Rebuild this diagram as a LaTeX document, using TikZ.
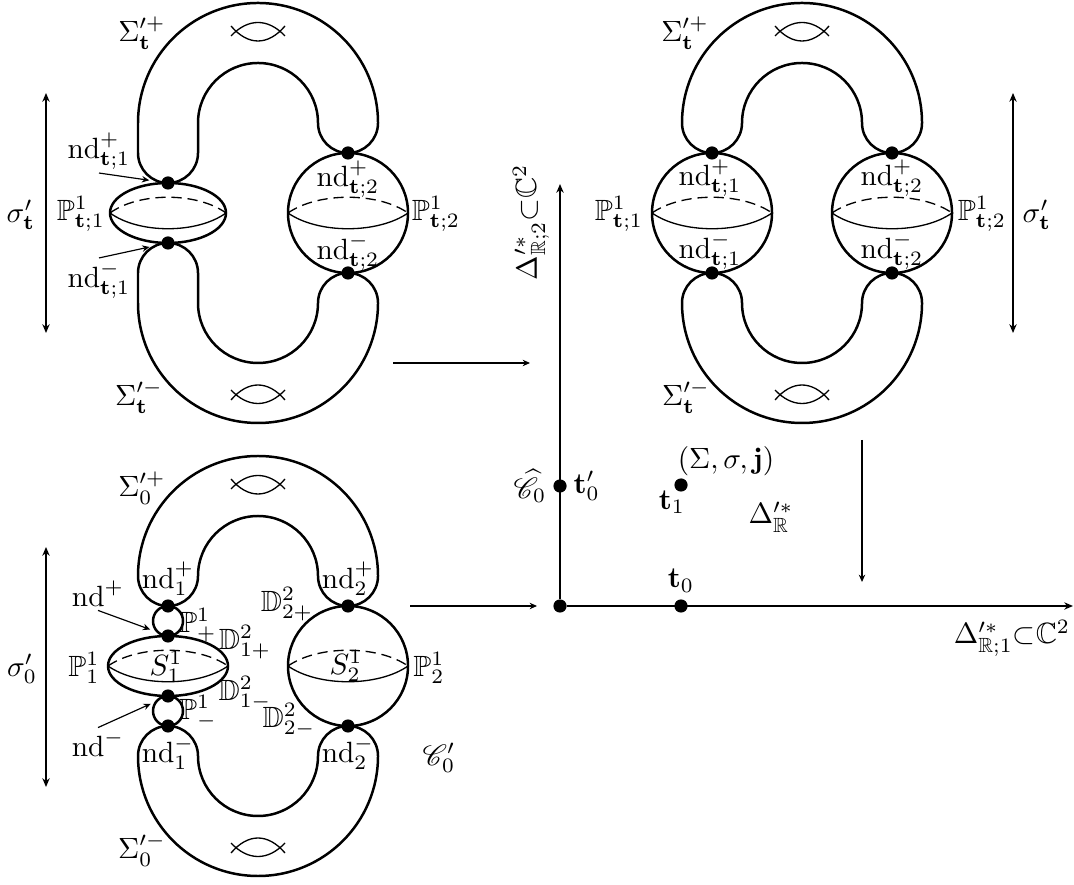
\documentclass[tikz,border=0pt]{standalone}
\usepackage{amsmath,amssymb}
\usepackage{mathrsfs}
\usetikzlibrary{arrows.meta, positioning}

\begin{document}
\begin{tikzpicture}[
    x=0.012cm,
    y=0.012cm,
    surf/.style={
        draw=black,
        line width=0.85pt
    },
    thinline/.style={
        draw=black,
        line width=0.45pt
    },
    hidden/.style={
        draw=black,
        line width=0.45pt,
        dash pattern=on 3.5pt off 2pt
    },
    dot/.style={
        circle,
        fill=black,
        inner sep=0pt,
        minimum size=4.5pt
    },
    lab/.style={
        inner sep=1pt
    },
    flip/.style={
        <->,
        >={Stealth[length=3pt,width=2.5pt]},
        line width=0.7pt
    },
    axis/.style={
        ->,
        >={Stealth[length=3pt,width=2.5pt]},
        line width=0.8pt
    },
    mapto/.style={
        ->,
        >={Stealth[length=2.5pt,width=2.2pt]},
        line width=0.4pt
    },
    pointer/.style={
        ->,
        >={Stealth[length=2.5pt,width=2.2pt]},
        line width=0.4pt,
        shorten >=4pt
    }
]

\useasboundingbox (0,0) rectangle (1074,884);

% ============================================================
% Handles of the three surfaces (upper one, then mirrored)
% ============================================================

\foreach \fx/\fy/\dl in {258/671/30, 802/671/0, 258/218/0} {
    \begin{scope}[shift={(\fx,\fy)}]
        \foreach \s in {1,-1} {
            \begin{scope}[yscale=\s]
                \draw[surf] (-90,{60-\dl}) arc[start angle=270, end angle=180, radius=30]
                    -- (-120,90) arc[start angle=180, end angle=0, radius=120]
                    arc[start angle=0, end angle=-90, radius=30]
                    arc[start angle=270, end angle=180, radius=30]
                    arc[start angle=0, end angle=180, radius=60]
                    -- (-60,{90-\dl}) arc[start angle=0, end angle=-90, radius=30];
                \draw[thinline] (-27,187) .. controls (-10,167) and (10,167) .. (27,187);
                \draw[thinline] (-27,177) .. controls (-10,195) and (10,195) .. (27,177);
            \end{scope}
        }
    \end{scope}
}

% ============================================================
% Top left: smoothing at t
% ============================================================

\begin{scope}[shift={(258,671)}]
    \draw[surf] (-90,0) ellipse[x radius=58, y radius=30];
    \draw[surf] (90,0) circle[radius=60];
    \foreach \cx/\rx in {-90/58, 90/60} {
        \draw[hidden]   ({\cx-\rx},0) .. controls ({\cx-0.5*\rx},21) and ({\cx+0.5*\rx},21) .. ({\cx+\rx},0);
        \draw[thinline] ({\cx-\rx},0) .. controls ({\cx-0.5*\rx},-21) and ({\cx+0.5*\rx},-21) .. ({\cx+\rx},0);
    }

    \node[dot] (tl1p) at (-90,30) {};
    \node[dot] (tl1m) at (-90,-30) {};
    \node[dot] (tl2p) at (90,60) {};
    \node[dot] (tl2m) at (90,-60) {};

    \node[lab] (tlSp) at (-116,180) {$\Sigma'^{+}_{\mathbf{t}}$};
    \node[lab] (tlSm) at (-119,-184) {$\Sigma'^{-}_{\mathbf{t}}$};
    \node[lab] (tlP1) at (-177,-1) {$\mathbb{P}^1_{\mathbf{t};1}$};
    \node[lab] (tlP2) at (178,-1) {$\mathbb{P}^1_{\mathbf{t};2}$};
    \node[lab] (tln1p) at (-159,62) {$\mathrm{nd}^{+}_{\mathbf{t};1}$};
    \node[lab] (tln1m) at (-159,-67) {$\mathrm{nd}^{-}_{\mathbf{t};1}$};
    \node[lab] (tln2p) at (90,34) {$\mathrm{nd}^{+}_{\mathbf{t};2}$};
    \node[lab] (tln2m) at (90,-39) {$\mathrm{nd}^{-}_{\mathbf{t};2}$};

    \draw[pointer] (tln1p.south) -- (tl1p);
    \draw[pointer] (tln1m.north) -- (tl1m);
\end{scope}

% ============================================================
% Top right: smoothing at t, two spheres
% ============================================================

\begin{scope}[shift={(802,671)}]
    \foreach \cx in {-90, 90} {
        \draw[surf] (\cx,0) circle[radius=60];
        \draw[hidden]   ({\cx-60},0) .. controls ({\cx-30},21) and ({\cx+30},21) .. ({\cx+60},0);
        \draw[thinline] ({\cx-60},0) .. controls ({\cx-30},-21) and ({\cx+30},-21) .. ({\cx+60},0);
    }

    \node[dot] (tr1p) at (-90,60) {};
    \node[dot] (tr1m) at (-90,-60) {};
    \node[dot] (tr2p) at (90,60) {};
    \node[dot] (tr2m) at (90,-60) {};

    \node[lab] (trSp) at (-117,180) {$\Sigma'^{+}_{\mathbf{t}}$};
    \node[lab] (trSm) at (-116,-184) {$\Sigma'^{-}_{\mathbf{t}}$};
    \node[lab] (trP1) at (-183,-1) {$\mathbb{P}^1_{\mathbf{t};1}$};
    \node[lab] (trP2) at (180,-1) {$\mathbb{P}^1_{\mathbf{t};2}$};
    \node[lab] (trn1p) at (-92,35) {$\mathrm{nd}^{+}_{\mathbf{t};1}$};
    \node[lab] (trn1m) at (-92,-38) {$\mathrm{nd}^{-}_{\mathbf{t};1}$};
    \node[lab] (trn2p) at (90,35) {$\mathrm{nd}^{+}_{\mathbf{t};2}$};
    \node[lab] (trn2m) at (90,-38) {$\mathrm{nd}^{-}_{\mathbf{t};2}$};
\end{scope}

% ============================================================
% Bottom left: nodal curve at 0
% ============================================================

\begin{scope}[shift={(258,218)}]
    \draw[surf] (-90,0) ellipse[x radius=60, y radius=30];
    \draw[surf] (90,0) circle[radius=60];
    \draw[surf] (-90,45) circle[radius=15];
    \draw[surf] (-90,-45) circle[radius=15];
    \foreach \cx in {-90, 90} {
        \draw[hidden]   ({\cx-60},0) .. controls ({\cx-30},21) and ({\cx+30},21) .. ({\cx+60},0);
        \draw[thinline] ({\cx-60},0) .. controls ({\cx-30},-21) and ({\cx+30},-21) .. ({\cx+60},0);
    }

    \node[dot] (bl1p) at (-90,60) {};
    \node[dot] (blp)  at (-90,30) {};
    \node[dot] (blm)  at (-90,-30) {};
    \node[dot] (bl1m) at (-90,-60) {};
    \node[dot] (bl2p) at (90,60) {};
    \node[dot] (bl2m) at (90,-60) {};

    \node[lab] (blSp) at (-116,178) {$\Sigma'^{+}_{0}$};
    \node[lab] (blSm) at (-116,-184) {$\Sigma'^{-}_{0}$};
    \node[lab] (blP1) at (-174,-2) {$\mathbb{P}^1_1$};
    \node[lab] (blP2) at (171,-2) {$\mathbb{P}^1_2$};
    \node[lab] (blPp) at (-60,41) {$\mathbb{P}^1_+$};
    \node[lab] (blPm) at (-60,-46) {$\mathbb{P}^1_-$};
    \node[lab] (blD1p) at (-13,24) {$\mathbb{D}^2_{1+}$};
    \node[lab] (blD1m) at (-13,-27) {$\mathbb{D}^2_{1-}$};
    \node[lab] (blD2p) at (29,62) {$\mathbb{D}^2_{2+}$};
    \node[lab] (blD2m) at (31,-54) {$\mathbb{D}^2_{2-}$};
    \node[lab] (blS1) at (-92,-1) {$S^1_1$};
    \node[lab] (blS2) at (88,0) {$S^1_2$};
    \node[lab] (blC) at (181,-92) {$\mathscr{C}'_0$};

    \node[lab, above=0pt of bl1p] (bln1p) {$\mathrm{nd}^{+}_{1}$};
    \node[lab, below=0pt of bl1m] (bln1m) {$\mathrm{nd}^{-}_{1}$};
    \node[lab, above=0pt of bl2p] (bln2p) {$\mathrm{nd}^{+}_{2}$};
    \node[lab, below=0pt of bl2m] (bln2m) {$\mathrm{nd}^{-}_{2}$};

    \node[lab] (blnp) at (-160,72) {$\mathrm{nd}^{+}$};
    \node[lab] (blnm) at (-160,-78) {$\mathrm{nd}^{-}$};
    \draw[pointer] (blnp.south) -- (blp);
    \draw[pointer] (blnm.north) -- (blm);
\end{scope}

% ============================================================
% Involutions
% ============================================================

\coordinate (s1t) at (46,791);
\coordinate (s1b) at (46,551);
\coordinate (s2t) at (46,337);
\coordinate (s2b) at (46,97);
\coordinate (s3t) at (1013,791);
\coordinate (s3b) at (1013,551);

\draw[flip] (s1t) -- (s1b);
\draw[flip] (s2t) -- (s2b);
\draw[flip] (s3t) -- (s3b);

\node[lab] (sg1) at (21,669) {$\sigma'_{\mathbf{t}}$};
\node[lab] (sg2) at (22,215) {$\sigma'_{0}$};
\node[lab] (sg3) at (1037,669) {$\sigma'_{\mathbf{t}}$};

% ============================================================
% Parameter space
% ============================================================

\node[dot] (O)   at (560,278) {};
\node[dot] (t0)  at (681,278) {};
\node[dot] (t0p) at (560,398) {};
\node[dot] (t1)  at (681,399) {};

\coordinate (xend) at (1073,278);
\coordinate (yend) at (560,700);
\draw[axis] (O) -- (xend);
\draw[axis] (O) -- (yend);

\node[lab, above=1pt of t0]  (t0l)  {$\mathbf{t}_0$};
\node[lab, right=1pt of t0p] (t0pl) {$\mathbf{t}'_0$};
\node[lab, left=1pt of t0p]  (chat) {$\widehat{\mathscr{C}}_0$};
\node[lab] (t1l) at (672,382) {$\mathbf{t}_1$};
\node[lab] (trip) at (726,423) {$(\Sigma,\sigma,\mathbf{j})$};
\node[lab] (dR) at (771,367) {$\Delta'^{*}_{\mathbb{R}}$};
\node[lab] (ax1) at (1012,246) {$\Delta'^{*}_{\mathbb{R};1}{\subset}\mathbb{C}^2$};
\node[lab, rotate=90] (ax2) at (531,662) {$\Delta'^{*}_{\mathbb{R};2}{\subset}\mathbb{C}^2$};

% maps
\coordinate (m1s) at (393,521);
\coordinate (m1e) at (530,521);
\coordinate (m2s) at (410,278);
\coordinate (m2e) at (537,278);
\coordinate (m3s) at (862,444);
\coordinate (m3e) at (862,302);

\draw[mapto] (m1s) -- (m1e);
\draw[mapto] (m2s) -- (m2e);
\draw[mapto] (m3s) -- (m3e);

\end{tikzpicture}
\end{document}
